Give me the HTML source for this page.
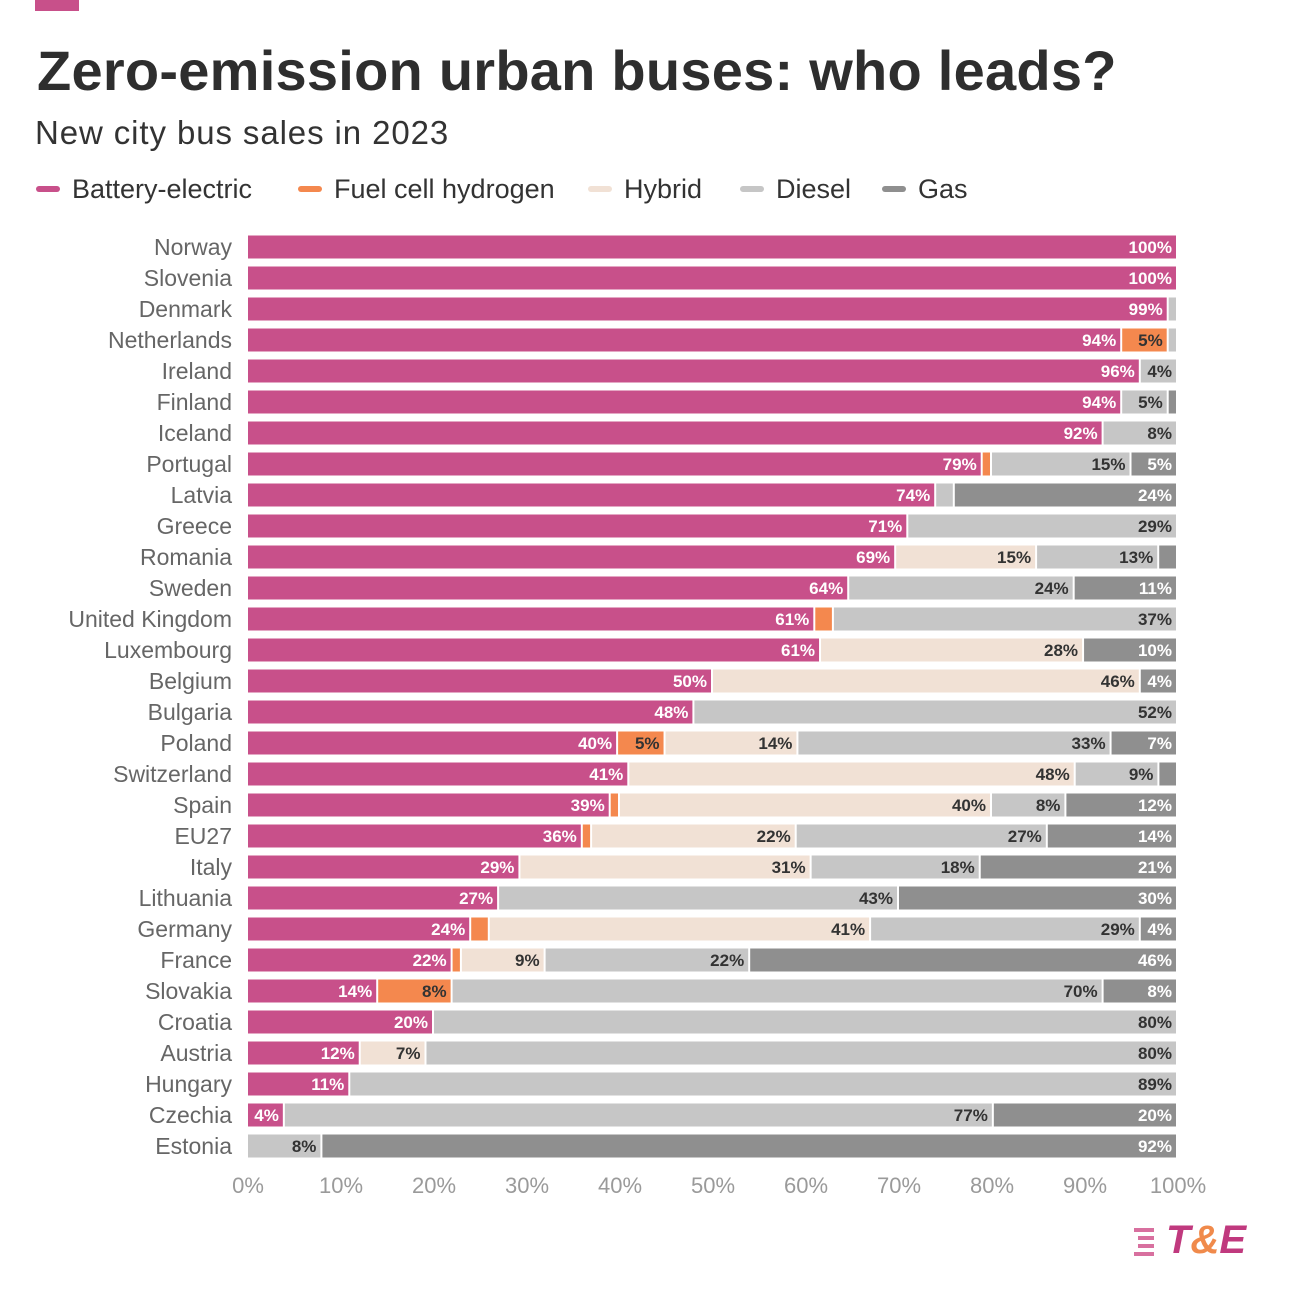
<!DOCTYPE html>
<html><head><meta charset="utf-8"><style>
body{margin:0;background:#fff;font-family:"Liberation Sans",sans-serif;}
#wrap{position:relative;width:1292px;height:1301px;overflow:hidden}
.t{position:absolute;white-space:nowrap}
</style></head><body><div id="wrap">
<div class="t" style="left:35px;top:0;width:44px;height:11px;background:#c8508a"></div>
<div class="t" style="left:37px;top:38px;font-size:56px;font-weight:bold;color:#2e2e2e;letter-spacing:0.25px">Zero-emission urban buses: who leads?</div>
<div class="t" style="left:35px;top:114px;font-size:33px;color:#333;letter-spacing:0.9px">New city bus sales in 2023</div>
<div id="legend"></div>
<svg id="chart" width="1292" height="1301" style="position:absolute;left:0;top:0"></svg>
<div style="position:absolute;left:1134px;top:1228px;width:22px;height:28px">
<div style="position:absolute;left:0;top:0;width:20px;height:4px;background:#d8709f"></div>
<div style="position:absolute;left:4px;top:8px;width:16px;height:4px;background:#d8709f"></div>
<div style="position:absolute;left:4px;top:16px;width:16px;height:4px;background:#d8709f"></div>
<div style="position:absolute;left:0;top:24px;width:20px;height:4px;background:#d8709f"></div>
</div>
<div class="t" style="left:1166px;top:1218px;font-size:40px;font-weight:bold;font-style:italic;color:#c0397e">T<span style="color:#f08a4b">&amp;</span>E</div>
</div>
<script>
const countries=["Norway","Slovenia","Denmark","Netherlands","Ireland","Finland","Iceland","Portugal","Latvia","Greece","Romania","Sweden","United Kingdom","Luxembourg","Belgium","Bulgaria","Poland","Switzerland","Spain","EU27","Italy","Lithuania","Germany","France","Slovakia","Croatia","Austria","Hungary","Czechia","Estonia"];
const battery=[100,100,99,94,96,94,92,79,74,71,69,64,61,61,50,48,39,41,39,36,29,27,24,22,14,20,12,11,4,0];
const fuelcell=[0,0,0,5,0,0,0,1,0,0,0,0,2,0,0,0,5,0,1,1,0,0,2,1,8,0,0,0,0,0];
const hybrid=[0,0,0,0,0,0,0,0,0,0,15,0,0,28,46,0,14,48,40,22,31,0,41,9,0,0,7,0,0,0];
const diesel=[0,0,1,1,4,5,8,15,2,29,13,24,37,0,0,52,33,9,8,27,18,43,29,22,70,80,80,89,77,8];
const gas=[0,0,0,0,0,1,0,5,24,0,2,11,0,10,4,0,7,2,12,14,21,30,4,46,8,0,0,0,20,92];
const batteryLabels=[100,100,99,94,96,94,92,79,74,71,69,64,61,61,50,48,40,41,39,36,29,27,24,22,14,20,12,11,4,0];
const ticks=[0,10,20,30,40,50,60,70,80,90,100];
const seriesNames=["Battery-electric","Fuel cell hydrogen","Hybrid","Diesel","Gas"];
const series=[battery,fuelcell,hybrid,diesel,gas];
const colors=["#c8508a","#f4884e","#f1e1d5","#c6c6c6","#8f8f8f"];
const textCol=["#fff","#333","#333","#333","#fff"];
const NS="http://www.w3.org/2000/svg";
const svg=document.getElementById('chart');
const x0=248,x1=1178,yTop=247,step=31.0,bh=23;
const xs=v=>x0+(x1-x0)*v/100;
function mk(t,a){const e=document.createElementNS(NS,t);for(const k in a)e.setAttribute(k,a[k]);svg.appendChild(e);return e;}
const lg=document.getElementById('legend');
const lx=[36,298,588,740,882];
seriesNames.forEach((n,i)=>{
 const d=document.createElement('div');d.className='t';
 
 
 d.style.left=lx[i]+'px';d.style.top='174px';d.style.fontSize='27px';d.style.color='#333';
 d.innerHTML='<span style="display:inline-block;width:24px;height:6px;border-radius:3px;background:'+colors[i]+';vertical-align:middle;margin-right:12px;position:relative;top:-2px"></span>'+n;
 lg.appendChild(d);
});
countries.forEach((c,r)=>{
 const cy=yTop+r*step;
 const lab=mk('text',{x:232,y:cy+8,'text-anchor':'end','font-size':23,fill:'#666'});
 lab.textContent=c;
 
 
 let tot=0;series.forEach(s=>tot+=s[r]);
 let acc=0;
 series.forEach((s,i)=>{
  const v=s[r];if(!v)return;
  const a=xs(acc/tot*100),b=xs((acc+v)/tot*100);acc+=v;
  const rect=mk('rect',{x:a,y:cy-bh/2,width:Math.max(b-a-2,1),height:bh,fill:colors[i]});
  
  
  const lv=i===0?batteryLabels[r]:v;
  if(v>=4){
   const tx=mk('text',{x:b-6,y:cy+6,'text-anchor':'end','font-size':17,'font-weight':'bold',fill:textCol[i]});
   tx.textContent=lv+'%';
   
   
  }
 });
});
ticks.forEach(t=>{
 const tx=mk('text',{x:xs(t),y:1193,'text-anchor':'middle','font-size':22,fill:'#9a9a9a'});
 tx.textContent=t+'%';
 
 
});
</script></body></html>
